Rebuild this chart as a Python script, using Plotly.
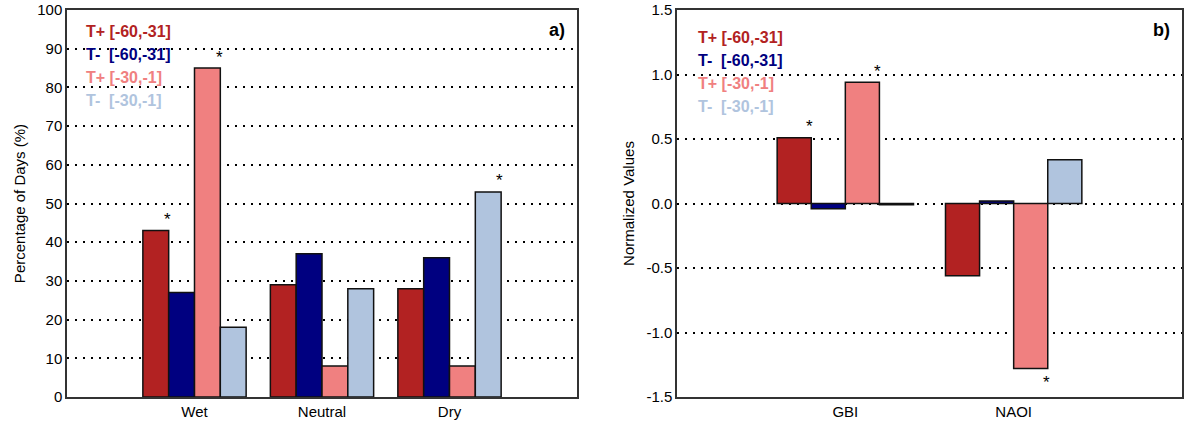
import plotly.graph_objects as go

# ---------------- data ----------------
series_names = ["T+ [-60,-31]", "T-\u00a0 [-60,-31]", "T+ [-30,-1]", "T-\u00a0 [-30,-1]"]
series_colors = ["#B22222", "#000080", "#F08080", "#B0C4DE"]

cats_a = ["Wet", "Neutral", "Dry"]
vals_a = [
    [43, 29, 28],   # T+ [-60,-31]
    [27, 37, 36],   # T- [-60,-31]
    [85, 8, 8],     # T+ [-30,-1]
    [18, 28, 53],   # T- [-30,-1]
]
stars_a = [(0, 0), (2, 0), (3, 2)]  # (series index, category index)

cats_b = ["GBI", "NAOI"]
vals_b = [
    [0.51, -0.56],
    [-0.04, 0.02],
    [0.94, -1.28],
    [-0.01, 0.34],
]
stars_b = [(0, 0), (2, 0), (2, 1)]

yticks_a = [0, 10, 20, 30, 40, 50, 60, 70, 80, 90, 100]
yticks_b = [-1.5, -1.0, -0.5, 0.0, 0.5, 1.0, 1.5]
yticklabels_b = ["-1.5", "-1.0", "-0.5", "0.0", "0.5", "1.0", "1.5"]

# ---------------- figure ----------------
W, H = 1188, 423
BARGAP = 0.19
NS = len(series_names)
bw = (1 - BARGAP) / NS

fig = go.Figure()

for i in range(NS):
    fig.add_trace(go.Bar(x=cats_a, y=vals_a[i], name=series_names[i],
                         marker=dict(color=series_colors[i], line=dict(color="#111", width=1.5)),
                         xaxis="x", yaxis="y", showlegend=False))
for i in range(NS):
    fig.add_trace(go.Bar(x=cats_b, y=vals_b[i], name=series_names[i],
                         marker=dict(color=series_colors[i], line=dict(color="#111", width=1.5)),
                         xaxis="x2", yaxis="y2", showlegend=False))

ann = []
def bar_x(si, ci):
    return ci - (1 - BARGAP) / 2 + bw * (si + 0.5)

for si, ci in stars_a:
    v = vals_a[si][ci]
    ann.append(dict(x=bar_x(si, ci) + bw * 0.45, y=v, xref="x", yref="y", text="*",
                    showarrow=False, font=dict(size=17, color="black", family="Liberation Sans"),
                    yshift=11 if v >= 0 else -14))
for si, ci in stars_b:
    v = vals_b[si][ci]
    ann.append(dict(x=bar_x(si, ci) + bw * 0.45, y=v, xref="x2", yref="y2", text="*",
                    showarrow=False, font=dict(size=17, color="black", family="Liberation Sans"),
                    yshift=11 if v >= 0 else -14))

PH = H - 36  # plot height in px
# legends as coloured text
for i, (n, c) in enumerate(zip(series_names, series_colors)):
    ann.append(dict(x=84 / W, y=1 - (32 + 22.7 * i - 10) / PH, xref="paper", yref="paper",
                    text="<b>%s</b>" % n, showarrow=False, xanchor="left", yanchor="middle",
                    font=dict(size=16, color=c, family="Liberation Sans")))
    ann.append(dict(x=696 / W, y=1 - (38 + 22.7 * i - 10) / PH, xref="paper", yref="paper",
                    text="<b>%s</b>" % n, showarrow=False, xanchor="left", yanchor="middle",
                    font=dict(size=16, color=c, family="Liberation Sans")))

ann.append(dict(x=567 / W, y=1 - (30 - 10) / PH, xref="paper", yref="paper", text="<b>a)</b>",
                showarrow=False, xanchor="right", yanchor="middle",
                font=dict(size=18, color="black", family="Liberation Sans")))
ann.append(dict(x=1172 / W, y=1 - (30 - 10) / PH, xref="paper", yref="paper", text="<b>b)</b>",
                showarrow=False, xanchor="right", yanchor="middle",
                font=dict(size=18, color="black", family="Liberation Sans")))

axis_common = dict(showline=True, linecolor="#333", linewidth=1.5, mirror=True,
                   tickfont=dict(size=15, color="black", family="Liberation Sans"))
grid_common = dict(showgrid=True, gridcolor="black", gridwidth=1.5, griddash="2px,6px",
                   zeroline=False)

fig.update_layout(
    width=W, height=H,
    margin=dict(l=0, r=0, t=10, b=26),
    paper_bgcolor="white", plot_bgcolor="white",
    barmode="group", bargap=BARGAP, bargroupgap=0,
    font=dict(family="Liberation Sans", color="black"),
    xaxis=dict(domain=[67 / W, 577 / W], range=[-1, 3], showgrid=False, ticks="",
               anchor="y", **axis_common),
    yaxis=dict(range=[0, 100], tickvals=yticks_a, ticks="", anchor="x",
               title=dict(text="Percentage of Days (%)", font=dict(size=15), standoff=8),
               **axis_common, **grid_common),
    xaxis2=dict(domain=[677 / W, 1182 / W], range=[-1, 2], showgrid=False, ticks="",
                anchor="y2", **axis_common),
    yaxis2=dict(range=[-1.5, 1.5], tickvals=yticks_b, ticktext=yticklabels_b, ticks="", anchor="x2",
                title=dict(text="Normalized Values", font=dict(size=15), standoff=8),
                **axis_common, **grid_common),
    annotations=ann,
)

fig.write_html("out.html", config={"displayModeBar": False},
               post_script="document.body.style.margin='0';")
